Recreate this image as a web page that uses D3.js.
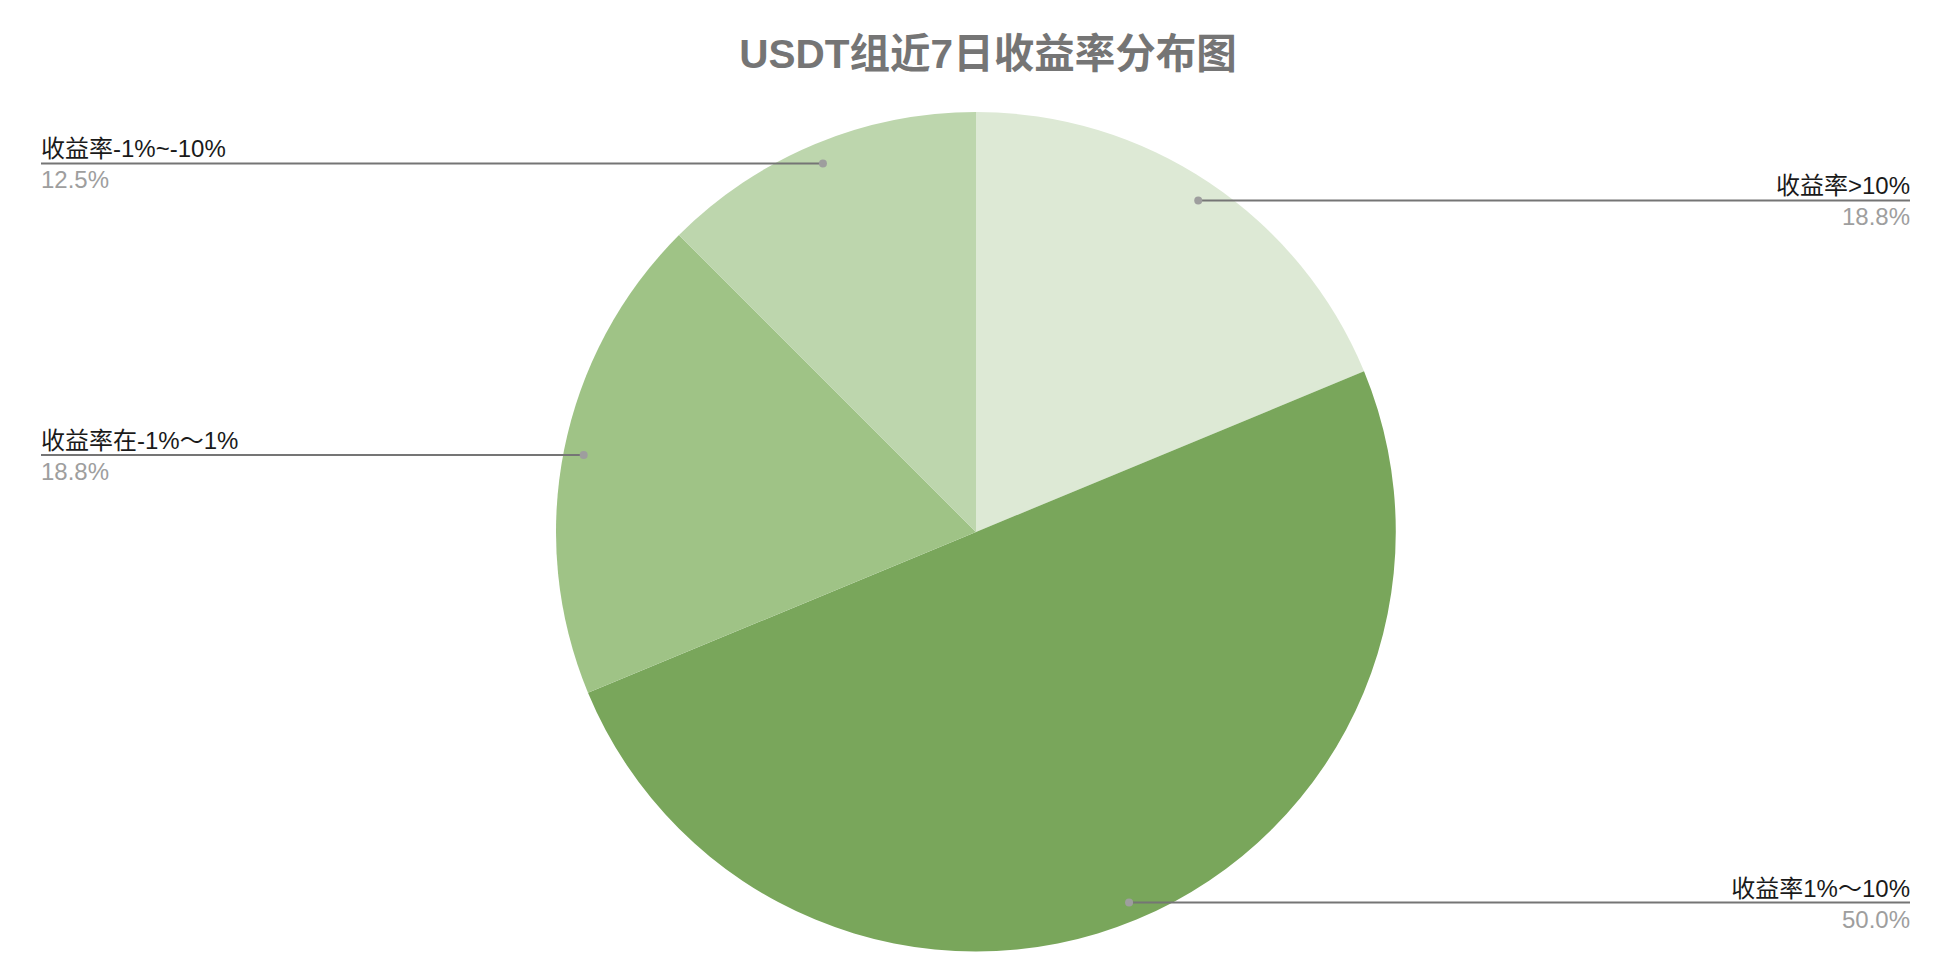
<!DOCTYPE html>
<html><head><meta charset="utf-8">
<script src="https://cdn.jsdelivr.net/npm/d3@7"></script>
<style>html,body{margin:0;padding:0;background:#fff;}</style>
</head><body>
<svg id="chart" width="1938" height="978"></svg>
<script>
const title = "USDT组近7日收益率分布图";
const categories = ["收益率>10%", "收益率1%～10%", "收益率在-1%～1%", "收益率-1%~-10%"];
const values = [3, 8, 3, 2];
const percentLabels = ["18.8%", "50.0%", "18.8%", "12.5%"];
const colors = ["#dde9d5", "#79a65b", "#9fc386", "#bdd6ad"];

const W = 1938, H = 978;
const cx = 976, cy = 532, R = 420, Rp = 400;
const svg = d3.select("#chart");

svg.append("text")
  .attr("x", 988).attr("y", 68)
  .attr("text-anchor", "middle")
  .attr("font-family", "Arial, 'Liberation Sans', 'Noto Sans CJK SC', sans-serif")
  .attr("font-weight", "bold").attr("font-size", 40.5)
  .attr("fill", "#757575")
  .text(title);

const pie = d3.pie().sort(null).value(d => d)(values);
const arc = d3.arc().innerRadius(0).outerRadius(R);
const pArc = d3.arc().innerRadius(Rp).outerRadius(Rp);

const g = svg.append("g").attr("transform", `translate(${cx},${cy})`);
g.selectAll("path.slice").data(pie).join("path")
  .attr("class", "slice")
  .attr("d", arc)
  .attr("fill", (d, i) => colors[i]);

const leftX = 41, rightX = 1910;
const font = "Arial, 'Liberation Sans', 'Noto Sans CJK SC', sans-serif";
pie.forEach((d, i) => {
  const [px, py] = pArc.centroid(d);
  const ax = cx + px, ay = cy + py + 1;
  const mid = (d.startAngle + d.endAngle) / 2;
  const right = mid < Math.PI;
  const ex = right ? rightX : leftX;
  svg.append("line")
    .attr("x1", ax).attr("y1", ay).attr("x2", ex).attr("y2", ay)
    .attr("stroke", "#757575").attr("stroke-width", 2);
  svg.append("circle").attr("cx", ax).attr("cy", ay).attr("r", 4).attr("fill", "#9e9e9e");
  svg.append("text")
    .attr("x", ex).attr("y", ay - 6)
    .attr("text-anchor", right ? "end" : "start")
    .attr("font-family", font).attr("font-size", 24)
    .attr("fill", "#1a1a1a")
    .text(categories[i]);
  svg.append("text")
    .attr("x", ex).attr("y", ay + 25)
    .attr("text-anchor", right ? "end" : "start")
    .attr("font-family", font).attr("font-size", 24)
    .attr("fill", "#9e9e9e")
    .text(percentLabels[i]);
});
</script>
</body></html>
